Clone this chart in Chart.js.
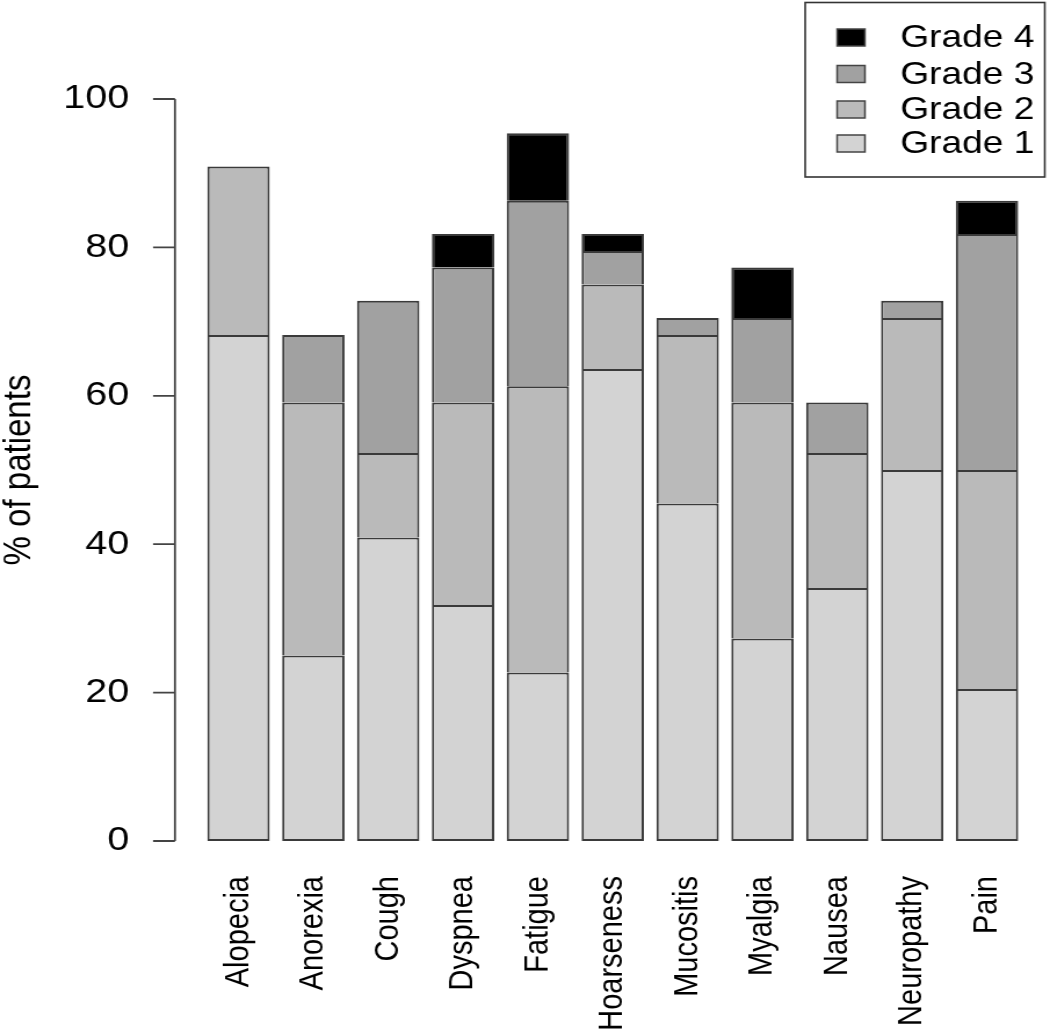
<!DOCTYPE html>
<html>
<head>
<meta charset="utf-8">
<script src="https://cdn.jsdelivr.net/npm/chart.js@4/dist/chart.umd.min.js"></script>
<style>
  html, body { margin: 0; padding: 0; background: #fff; overflow: hidden; }
  #myChart { transform: scaleX(1.1602); transform-origin: 0 0; }
</style>
</head>
<body>
<canvas id="myChart" width="905" height="1033"></canvas>
<script>
'use strict';

// symptoms on the x axis
const categories = ['Alopecia', 'Anorexia', 'Cough', 'Dyspnea', 'Fatigue', 'Hoarseness',
  'Mucositis', 'Myalgia', 'Nausea', 'Neuropathy', 'Pain'];

// % of patients per toxicity grade (stacked)
const grade1 = [68.2, 25.0, 40.9, 31.8, 22.7, 63.6, 45.5, 27.3, 34.1, 50.0, 20.5];
const grade2 = [22.7, 34.1, 11.4, 27.3, 38.6, 11.4, 22.7, 31.8, 18.2, 20.5, 29.5];
const grade3 = [0, 9.1, 20.5, 18.2, 25.0, 4.5, 2.3, 11.4, 6.8, 2.3, 31.8];
const grade4 = [0, 0, 0, 4.5, 9.1, 2.3, 0, 6.8, 0, 0, 4.5];

const seriesLabels = ['Grade 1', 'Grade 2', 'Grade 3', 'Grade 4'];
const yTicks = [0, 20, 40, 60, 80, 100];

const colors = ['#d3d3d3', '#bababa', '#a1a1a1', '#000000'];
const edge = '#3a3a3a';
const fontFamily = '"Liberation Sans", Arial, sans-serif';

function makeSet(label, values, color, skip) {
  return {
    label: label,
    // zero segments are left out so they draw no border line
    data: values.map(function (v) { return v === 0 ? null : v; }),
    backgroundColor: color,
    borderColor: edge,
    borderWidth: 2,
    borderSkipped: skip,
    barPercentage: 0.833,
    categoryPercentage: 1.0
  };
}

// R style axis: line only from first to last tick, ticks pointing out
const rAxis = {
  id: 'rAxis',
  afterDraw: function (chart) {
    const ctx = chart.ctx;
    const y = chart.scales.y;
    const xLine = 150.8;
    ctx.save();
    ctx.strokeStyle = '#444';
    ctx.lineWidth = 1.8;
    ctx.beginPath();
    ctx.moveTo(xLine, y.getPixelForValue(yTicks[0]));
    ctx.lineTo(xLine, y.getPixelForValue(yTicks[yTicks.length - 1]));
    yTicks.forEach(function (t) {
      const py = y.getPixelForValue(t);
      ctx.moveTo(131.9, py);
      ctx.lineTo(xLine, py);
    });
    ctx.stroke();
    ctx.restore();
  }
};

// boxed legend in the top right, highest grade first
const boxLegend = {
  id: 'boxLegend',
  afterDraw: function (chart) {
    const ctx = chart.ctx;
    ctx.save();
    ctx.strokeStyle = '#333';
    ctx.lineWidth = 1.6;
    ctx.strokeRect(694, 2.5, 206.5, 174.5);
    ctx.font = '32px ' + fontFamily;
    ctx.textBaseline = 'middle';
    ctx.textAlign = 'left';
    const rows = [37.5, 74, 109.5, 143.5];
    for (let i = 0; i < 4; i++) {
      const k = 3 - i;
      const cy = rows[i];
      ctx.fillStyle = colors[k];
      ctx.fillRect(721.5, cy - 8.5, 24, 17);
      ctx.strokeStyle = '#444';
      ctx.lineWidth = 1.5;
      ctx.strokeRect(721.5, cy - 8.5, 24, 17);
      ctx.fillStyle = '#000';
      ctx.fillText(seriesLabels[k], 775.9, cy + 1);
    }
    ctx.restore();
  }
};

var ctx1 = document.getElementById('myChart');

let myChart = new Chart(ctx1, {
  type: 'bar',
  data: {
    labels: categories,
    datasets: [
      makeSet(seriesLabels[0], grade1, colors[0], false),
      makeSet(seriesLabels[1], grade2, colors[1], 'start'),
      makeSet(seriesLabels[2], grade3, colors[2], 'start'),
      makeSet(seriesLabels[3], grade4, colors[3], 'start')
    ]
  },
  options: {
    responsive: false,
    animation: false,
    layout: { padding: { top: 99, right: 22, left: 0, bottom: 0 } },
    plugins: {
      legend: { display: false },
      tooltip: { enabled: false }
    },
    scales: {
      x: {
        stacked: true,
        grid: { display: false, drawTicks: false },
        border: { display: false },
        ticks: {
          color: '#000',
          font: { family: fontFamily, size: 29 },
          minRotation: 90,
          maxRotation: 90,
          autoSkip: false,
          padding: 35
        },
        afterFit: function (scale) {
          scale.height = 192;
          scale.paddingLeft = 0;
          scale.paddingRight = 0;
        }
      },
      y: {
        stacked: true,
        min: 0,
        max: 100,
        grid: { display: false, drawTicks: false },
        border: { display: false },
        ticks: {
          color: '#000',
          font: { family: fontFamily, size: 34 },
          stepSize: 20,
          padding: 62
        },
        title: {
          display: true,
          text: '% of patients',
          color: '#000',
          font: { family: fontFamily, size: 33, lineHeight: 1.04 },
          padding: 0
        },
        afterFit: function (scale) { scale.width = 173.3; }
      }
    }
  },
  plugins: [rAxis, boxLegend]
});
</script>
</body>
</html>
